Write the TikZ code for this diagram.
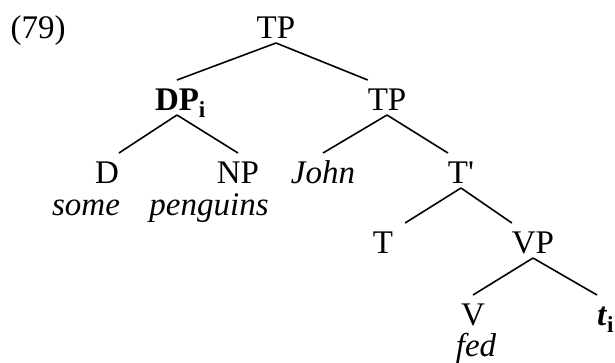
\documentclass[tikz,border=0pt]{standalone}
\usepackage{fontspec}
\setmainfont{Liberation Serif}
\newcommand\idx[1]{\rlap{\textsubscript{\textbf{#1}}}}
\tikzstyle{cat}=[inner sep=0pt,outer xsep=0pt,outer ysep=5pt,text height=25pt,text depth=0pt,anchor=base,font=\fontsize{33}{40}\selectfont]
\tikzstyle{word}=[cat,font=\fontsize{33}{40}\selectfont\itshape]
\tikzstyle{leaf}=[inner sep=0pt,anchor=base,font=\fontsize{33}{40}\selectfont\itshape]
\tikzstyle{branch}=[line width=1.6pt]
\begin{document}
\begin{tikzpicture}[x=1pt,y=-1pt]
	\useasboundingbox (0,0) rectangle (615,362);
	\node[cat]  (ex)    at (38,38)   {(79)};
	\node[cat]  (tp)    at (276,38)  {TP};
	\node[cat]  (dp)    at (177,110) {\textbf{DP}\idx{i}};
	\node[cat]  (tp2)   at (387,110) {TP};
	\node[cat]  (d)     at (107,183) {D};
	\node[cat]  (np)    at (238,183) {NP};
	\node[word] (john)  at (323,183) {John};
	\node[cat]  (tbar)  at (461,183) {T\textquotesingle};
	\node[leaf] (some)  at (86,215)  {some};
	\node[leaf] (peng)  at (209,215) {penguins};
	\node[cat]  (t)     at (383,253) {T};
	\node[cat]  (vp)    at (533,253) {VP};
	\node[cat]  (v)     at (473,325) {V};
	\node[cat]  (ti)    at (602,325) {\textbf{\textit{t}}\idx{i}};
	\node[leaf] (fed)   at (476,356) {fed};
	% branches
	\draw[branch] (tp.south)   -- (dp.north);
	\draw[branch] (tp.south)   -- (tp2.north west);
	\draw[branch] (dp.south)   -- (d.north east);
	\draw[branch] (dp.south)   -- (np.north);
	\draw[branch] (tp2.south)  -- (john.north);
	\draw[branch] (tp2.south)  -- (tbar.north west);
	\draw[branch] (tbar.south) -- ([xshift=12pt]t.north east);
	\draw[branch] (tbar.south) -- (vp.north west);
	\draw[branch] (vp.south)   -- (v.north);
	\draw[branch] (vp.south)   -- (ti.north west);
\end{tikzpicture}
\end{document}
